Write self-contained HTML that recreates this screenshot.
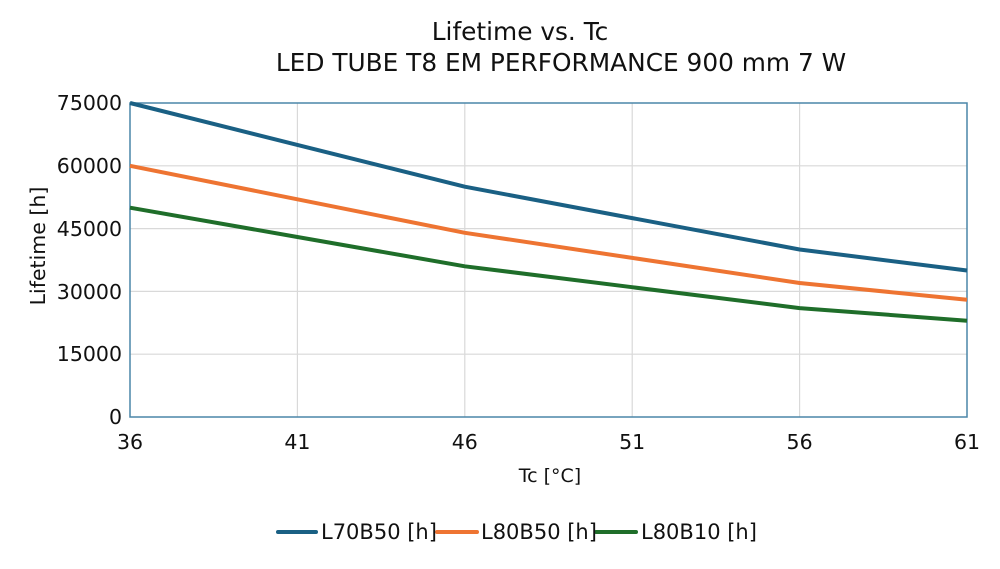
<!DOCTYPE html>
<html><head><meta charset="utf-8"><style>
html,body{margin:0;padding:0;background:#fff;}
svg text{font-family:"DejaVu Sans","Liberation Sans",sans-serif;fill:#111;}
</style></head><body>
<svg width="1000" height="564" viewBox="0 0 1000 564" xmlns="http://www.w3.org/2000/svg">
<rect width="1000" height="564" fill="#fff"/>
<text x="520" y="40" font-size="24.8" text-anchor="middle">Lifetime vs. Tc</text>
<text x="561" y="71" font-size="24.8" text-anchor="middle">LED TUBE T8 EM PERFORMANCE 900 mm 7 W</text>
<g stroke="#d9d9d9" stroke-width="1.2">
<line x1="130" y1="165.8" x2="967" y2="165.8"/>
<line x1="130" y1="228.6" x2="967" y2="228.6"/>
<line x1="130" y1="291.4" x2="967" y2="291.4"/>
<line x1="130" y1="354.2" x2="967" y2="354.2"/>
<line x1="297.4" y1="103" x2="297.4" y2="417"/>
<line x1="464.8" y1="103" x2="464.8" y2="417"/>
<line x1="632.2" y1="103" x2="632.2" y2="417"/>
<line x1="799.6" y1="103" x2="799.6" y2="417"/>
</g>
<rect x="130" y="103" width="837" height="314" fill="none" stroke="#4a86a8" stroke-width="1.5"/>
<g font-size="20.5" text-anchor="end">
<text x="122" y="110">75000</text>
<text x="122" y="173">60000</text>
<text x="122" y="236">45000</text>
<text x="122" y="299">30000</text>
<text x="122" y="361">15000</text>
<text x="122" y="424">0</text>
</g>
<g font-size="20.5" text-anchor="middle">
<text x="130" y="449">36</text>
<text x="297.4" y="449">41</text>
<text x="464.8" y="449">46</text>
<text x="632.2" y="449">51</text>
<text x="799.6" y="449">56</text>
<text x="967" y="449">61</text>
</g>
<text x="550" y="482" font-size="19" text-anchor="middle">Tc [°C]</text>
<text transform="translate(45,246) rotate(-90)" font-size="20.5" text-anchor="middle">Lifetime [h]</text>
<g fill="none" stroke-width="4" stroke-linejoin="round">
<polyline stroke="#1a6084" points="130,103 297.4,144.9 464.8,186.7 632.2,218.1 799.6,249.5 967,270.5"/>
<polyline stroke="#ee7432" points="130,165.8 297.4,199.3 464.8,232.8 632.2,257.9 799.6,283 967,299.8"/>
<polyline stroke="#1f6e2a" points="130,207.7 297.4,237 464.8,266.3 632.2,287.2 799.6,308.1 967,320.7"/>
</g>
<g stroke-width="4" stroke-linecap="round">
<line x1="278" y1="532" x2="316" y2="532" stroke="#1a6084"/>
<line x1="437" y1="532" x2="477" y2="532" stroke="#ee7432"/>
<line x1="596" y1="532" x2="636" y2="532" stroke="#1f6e2a"/>
</g>
<g font-size="21">
<text x="321" y="539">L70B50 [h]</text>
<text x="481" y="539">L80B50 [h]</text>
<text x="641" y="539">L80B10 [h]</text>
</g>
</svg>
</body></html>
